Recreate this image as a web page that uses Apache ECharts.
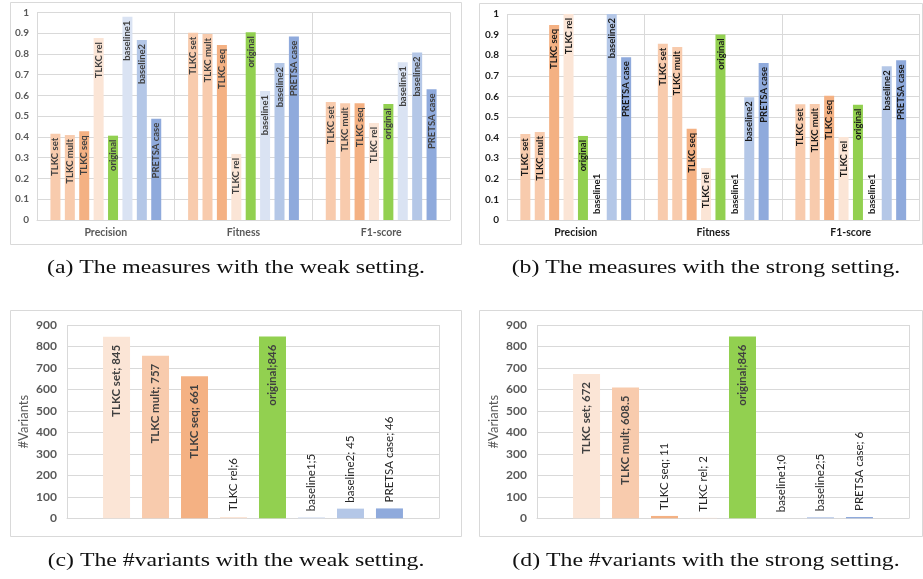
<!DOCTYPE html>
<html>
<head>
<meta charset="utf-8">
<script src="https://cdn.jsdelivr.net/npm/echarts@6/dist/echarts.min.js"></script>
<style>
html,body{margin:0;padding:0;background:#fff;}
#chart{width:923px;height:579px;}
</style>
</head>
<body>
<div id="chart"></div>
<script>
// ---------- data ----------
const seriesNames = ['TLKC set', 'TLKC mult', 'TLKC seq', 'TLKC rel', 'original', 'baseline1', 'baseline2', 'PRETSA case'];
const measureCategories = ['Precision', 'Fitness', 'F1-score'];
const measureTicks = [0, 0.1, 0.2, 0.3, 0.4, 0.5, 0.6, 0.7, 0.8, 0.9, 1];
const variantTicks = [0, 100, 200, 300, 400, 500, 600, 700, 800, 900];

const weakPrecision = [0.415, 0.409, 0.427, 0.876, 0.406, 0.979, 0.867, 0.488];
const weakFitness   = [0.902, 0.896, 0.843, 0.318, 0.904, 0.621, 0.756, 0.883];
const weakF1        = [0.568, 0.562, 0.562, 0.467, 0.558, 0.759, 0.807, 0.629];

const strongPrecision = [0.417, 0.427, 0.947, 1.0, 0.408, 0, 1.0, 0.790];
const strongFitness   = [0.856, 0.840, 0.443, 0.252, 0.901, 0, 0.596, 0.762];
const strongF1        = [0.562, 0.563, 0.603, 0.403, 0.560, 0, 0.746, 0.775];

const variantsWeak   = [845, 757, 661, 6, 846, 5, 45, 46];
const variantsStrong = [672, 608.5, 11, 2, 846, 0, 5, 6];
const sepWeak   = ['; ', '; ', '; ', ';', ';', ';', '; ', '; '];
const sepStrong = ['; ', '; ', '; ', '; ', ';', ';', ';', '; '];

const captions = [
  '(a) The measures with the weak setting.',
  '(b) The measures with the strong setting.',
  '(c) The #variants with the weak setting.',
  '(d) The #variants with the strong setting.'
];

// ---------- styles ----------
const colorsMeasure = ['#F8CBAD', '#F8CBAD', '#F4B183', '#FBE5D6', '#92D050', '#DAE3F3', '#B4C7E7', '#8FAADC'];
const colorsVariants = ['#FBE5D6', '#F8CBAD', '#F4B183', '#FBE5D6', '#92D050', '#DAE3F3', '#B4C7E7', '#8FAADC'];
const FONT = 'Lato, "Open Sans", sans-serif';
const CAP_FONT_FAMILY = '"Liberation Serif", "DejaVu Serif", serif';
const CAP_FONT_SIZE = 18;
const GRID_C = '#D9D9D9';

const grids = [
  {left: 37, top: 12.3, width: 413, height: 207.7},
  {left: 507, top: 14, width: 412.5, height: 206},
  {left: 67, top: 325, width: 372, height: 193.3},
  {left: 537, top: 325, width: 372, height: 193.3}
];

function yAxisMeasure(gi, color) {
  return {
    type: 'value', gridIndex: gi, min: 0, max: 1, interval: 0.1,
    axisLine: {show: false}, axisTick: {show: false},
    splitLine: {lineStyle: {color: GRID_C, width: 1}},
    axisLabel: {fontFamily: FONT, fontSize: 10, fontWeight: 'bold', color: color, margin: 8,
      formatter: v => String(measureTicks[Math.round(v * 10)])}
  };
}
function yAxisVariants(gi) {
  return {
    type: 'value', gridIndex: gi, min: 0, max: 900, interval: 100,
    name: '#Variants', nameLocation: 'middle', nameGap: 37, nameRotate: 90,
    nameTextStyle: {fontFamily: FONT, fontSize: 13, color: '#595959'},
    axisLine: {show: false}, axisTick: {show: false},
    splitLine: {lineStyle: {color: GRID_C, width: 1}},
    axisLabel: {fontFamily: FONT, fontSize: 12, fontWeight: 'bold', color: '#595959', margin: 10,
      formatter: v => String(variantTicks[Math.round(v / 100)])}
  };
}
function xAxisMeasure(gi, color) {
  return {
    type: 'category', gridIndex: gi, data: measureCategories,
    axisLine: {lineStyle: {color: GRID_C}}, axisTick: {show: false},
    splitLine: {show: true, interval: 0, lineStyle: {color: GRID_C}},
    axisLabel: {fontFamily: FONT, fontSize: 10.5, fontWeight: 'bold', color: color, margin: 7}
  };
}
function xAxisVariants(gi) {
  return {
    type: 'category', gridIndex: gi, data: [''],
    axisLine: {lineStyle: {color: GRID_C}}, axisTick: {show: false},
    splitLine: {show: true, interval: 0, lineStyle: {color: GRID_C}},
    axisLabel: {show: false}
  };
}

const series = [];
function addMeasurePanel(gi, rows, labelColor) {
  seriesNames.forEach((name, s) => {
    series.push({
      type: 'bar', name: name, xAxisIndex: gi, yAxisIndex: gi,
      barWidth: 10, barGap: '44%',
      itemStyle: {color: colorsMeasure[s]},
      label: {show: true, position: 'insideTop', rotate: 90, align: 'right', verticalAlign: 'middle',
        distance: 4, formatter: name, fontFamily: FONT, fontSize: 9.5, fontWeight: 'bold', color: labelColor},
      data: rows.map(r => {
        const v = r[s];
        if (v === 0) {
          return {value: v, label: {position: 'insideBottom', align: 'left', distance: 6}};
        }
        return v;
      })
    });
  });
}
function addVariantPanel(gi, values, seps) {
  seriesNames.forEach((name, s) => {
    const v = values[s];
    const inside = v >= 100;
    series.push({
      type: 'bar', name: name, xAxisIndex: gi, yAxisIndex: gi,
      barWidth: 27, barGap: '44.4%',
      itemStyle: {color: colorsVariants[s]},
      label: {show: true, position: inside ? 'insideTop' : 'top', rotate: 90,
        align: inside ? 'right' : 'left', verticalAlign: 'middle', distance: inside ? 8 : 6,
        formatter: name + seps[s] + v, fontFamily: FONT, fontSize: 11.5,
        fontWeight: inside ? 'bold' : 'normal', color: inside ? '#404040' : '#262626'},
      data: [v]
    });
  });
}
addMeasurePanel(0, [weakPrecision, weakFitness, weakF1], '#404040');
addMeasurePanel(1, [strongPrecision, strongFitness, strongF1], '#1a1a1a');
addVariantPanel(2, variantsWeak, sepWeak);
addVariantPanel(3, variantsStrong, sepStrong);

const boxes = [
  {x: 10.5, y: 2.5, width: 451, height: 242},
  {x: 479.5, y: 3.5, width: 443, height: 241},
  {x: 10.5, y: 310.5, width: 451, height: 226},
  {x: 479.5, y: 310.5, width: 443, height: 226}
];
const capPos = [[236, 268], [706, 268], [236, 561], [706, 561]];

// horizontal stretch so caption (a) spans the same width as in the reference (~378px)
const measureCtx = document.createElement('canvas').getContext('2d');
measureCtx.font = CAP_FONT_SIZE + 'px ' + CAP_FONT_FAMILY;
const capScale = 378 / measureCtx.measureText(captions[0]).width;

const graphic = boxes.map(b => ({
  type: 'rect', silent: true, z: -1,
  shape: b, style: {fill: 'none', stroke: '#D9D9D9', lineWidth: 1}
})).concat(captions.map((t, i) => ({
  type: 'text', silent: true,
  x: capPos[i][0], y: capPos[i][1], scaleX: capScale,
  style: {text: t, fontFamily: CAP_FONT_FAMILY, fontSize: CAP_FONT_SIZE,
    fill: '#111', align: 'center', verticalAlign: 'middle'}
})));

const chart = echarts.init(document.getElementById('chart'), null, {renderer: 'canvas'});
chart.setOption({
  animation: false,
  backgroundColor: '#fff',
  grid: grids,
  xAxis: [xAxisMeasure(0, '#595959'), xAxisMeasure(1, '#1a1a1a'), xAxisVariants(2), xAxisVariants(3)],
  yAxis: [yAxisMeasure(0, '#595959'), yAxisMeasure(1, '#1a1a1a'), yAxisVariants(2), yAxisVariants(3)],
  series: series,
  graphic: graphic
});
</script>
</body>
</html>
